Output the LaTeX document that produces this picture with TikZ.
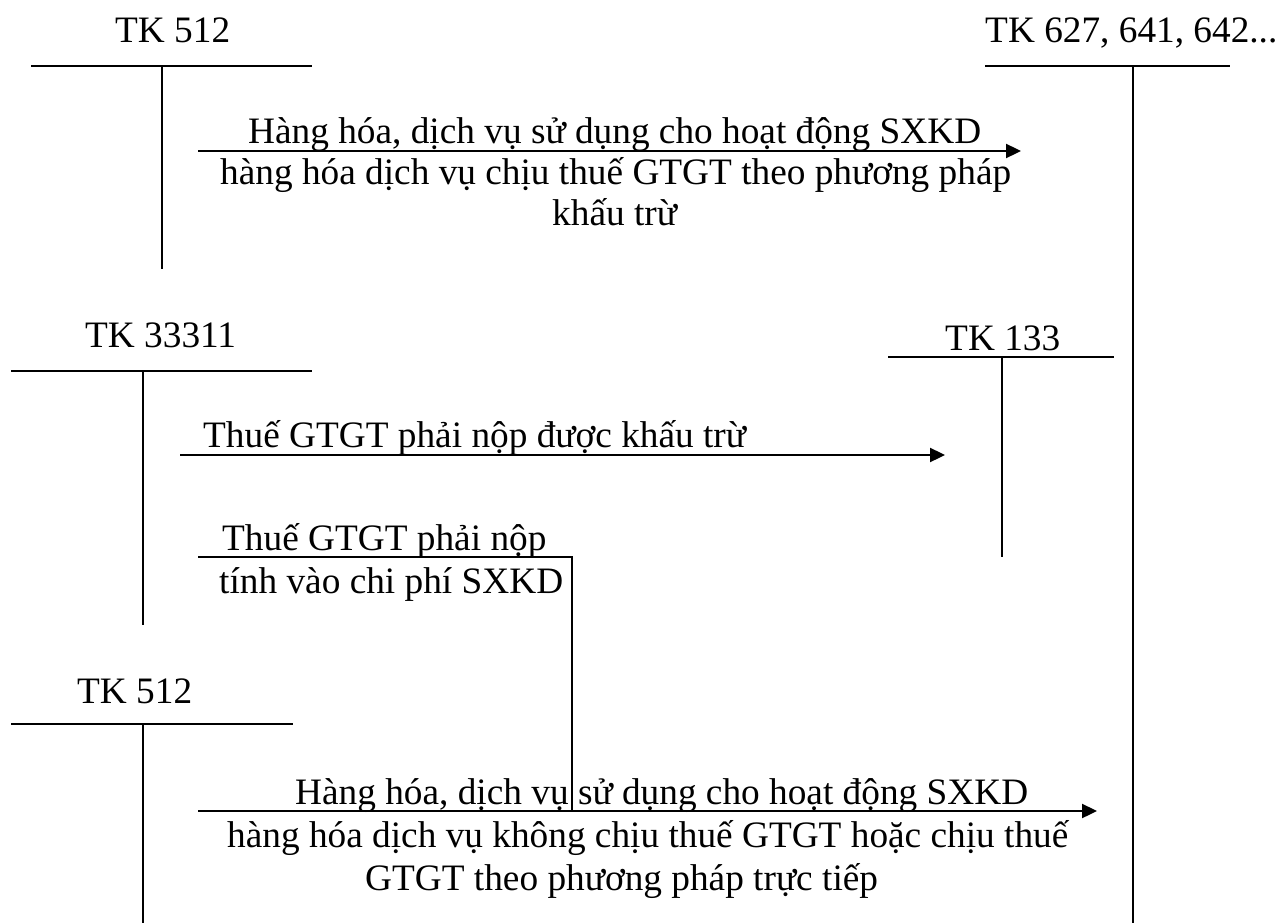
\documentclass[tikz,border=0pt]{standalone}
\usepackage{fontspec}
\setmainfont{Liberation Serif}
\usetikzlibrary{arrows.meta}
\begin{document}
\begin{tikzpicture}[x=1pt,y=-1pt,
  lbl/.style={font=\fontsize{37.3}{42}\selectfont, inner sep=0pt, anchor=base west},
  tline/.style={line width=1.9pt},
  flow/.style={line width=2.3pt, -{Triangle[length=15pt,width=14pt]}},
  slim/.style={line width=1.4pt}]
\useasboundingbox[fill=white] (0,0) rectangle (1279,923);

% account headings
\node[lbl] (tk512a) at (115,43) {TK 512};
\node[lbl] (tk627) at (985,43) {TK 627, 641, 642...};
\node[lbl] (tk33311) at (85,347) {TK 33311};
\node[lbl] (tk133) at (945,350) {TK 133};
\node[lbl] (tk512b) at (77,703) {TK 512};

% T-account frames
\coordinate (t1l) at (31,66);   \coordinate (t1r) at (312,66);
\coordinate (t1t) at (162,66);  \coordinate (t1b) at (162,269);
\coordinate (t2l) at (985,66);  \coordinate (t2r) at (1230,66);
\coordinate (t2t) at (1133,66); \coordinate (t2b) at (1133,923);
\coordinate (t3l) at (11,371);  \coordinate (t3r) at (312,371);
\coordinate (t3t) at (143,371); \coordinate (t3b) at (143,625);
\coordinate (t4l) at (888,357); \coordinate (t4r) at (1114,357);
\coordinate (t4t) at (1002,357);\coordinate (t4b) at (1002,557);
\coordinate (t5l) at (11,724);  \coordinate (t5r) at (293,724);
\coordinate (t5t) at (143,724); \coordinate (t5b) at (143,923);

\foreach \k in {1,...,5}{
  \draw[tline] (t\k l) -- (t\k r);
  \draw[tline] (t\k t) -- (t\k b);
}

% flow 1: TK 512 -> TK 627...
\coordinate (f1s) at (198,151); \coordinate (f1e) at (1021,151);
\draw[flow] (f1s) -- (f1e);
\node[lbl] (f1a) at (248,143) {Hàng hóa, dịch vụ sử dụng cho hoạt động SXKD};
\node[lbl] (f1b) at (220,184) {hàng hóa dịch vụ chịu thuế GTGT theo phương pháp};
\node[lbl] (f1c) at (552,225) {khấu trừ};

% flow 2: TK 33311 -> TK 133
\coordinate (f2s) at (180,455); \coordinate (f2e) at (945,455);
\draw[flow] (f2s) -- (f2e);
\node[lbl] (f2a) at (203,447) {Thuế GTGT phải nộp được khấu trừ};

% flow 3: TK 33311 -> cost, joining flow 4
\coordinate (f3s) at (198,557); \coordinate (f3k) at (572,557);
\coordinate (f3e) at (572,811);
\draw[slim] (f3s) -- (f3k) -- (f3e);
\node[lbl] (f3a) at (222,550) {Thuế GTGT phải nộp};
\node[lbl] (f3b) at (219,593) {tính vào chi phí SXKD};

% flow 4: TK 512 -> TK 627...
\coordinate (f4s) at (198,811); \coordinate (f4e) at (1097,811);
\draw[flow] (f4s) -- (f4e);
\node[lbl] (f4a) at (295,804) {Hàng hóa, dịch vụ sử dụng cho hoạt động SXKD};
\node[lbl] (f4b) at (227,847) {hàng hóa dịch vụ không chịu thuế GTGT hoặc chịu thuế};
\node[lbl] (f4c) at (365,890) {GTGT theo phương pháp trực tiếp};
\end{tikzpicture}
\end{document}
